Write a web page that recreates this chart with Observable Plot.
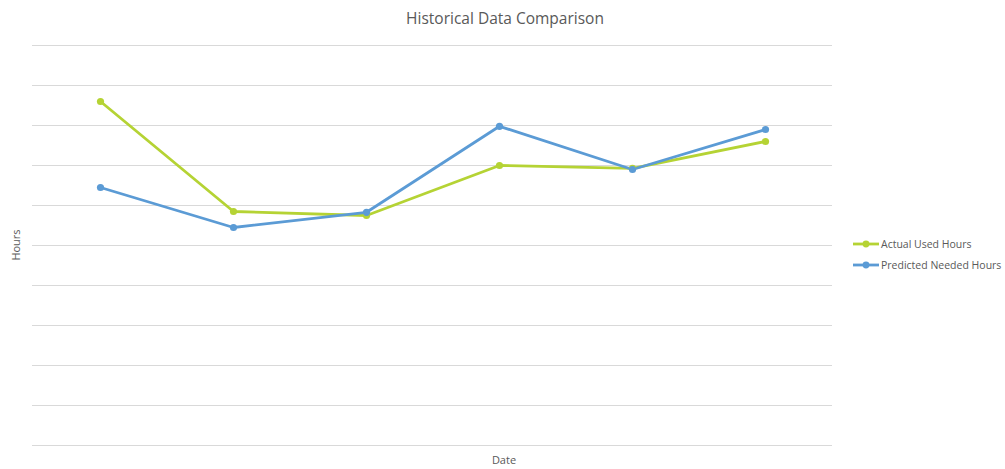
<!DOCTYPE html>
<html>
<head>
<meta charset="utf-8">
<script src="https://cdn.jsdelivr.net/npm/d3@7"></script>
<script src="https://cdn.jsdelivr.net/npm/@observablehq/plot@0.6"></script>
<style>
  html, body { margin: 0; padding: 0; background: #fff; }
  #wrap { position: relative; width: 1005px; height: 469px; font-family: "Open Sans", "DejaVu Sans", sans-serif; color: #595959; }
  #chart { position: absolute; left: 0; top: 0; }
  .title { position: absolute; left: 0; width: 1010px; top: 7px; text-align: center; font-size: 15.5px; color: #595959; }
  .xlab { position: absolute; left: 0; width: 1008px; top: 452px; text-align: center; font-size: 11px; color: #595959; }
  .ylab { position: absolute; left: 15px; top: 245px; font-size: 11px; color: #595959; transform: translate(-50%, -50%) rotate(-90deg); white-space: nowrap; }
  .legend { position: absolute; left: 853px; top: 233px; font-size: 10.5px; color: #595959; }
  .legend .item { display: flex; align-items: center; height: 21.5px; }
  .legend svg { margin-right: 2px; }
</style>
</head>
<body>
<div id="wrap">
  <div id="chart"></div>
  <div class="title" id="title"></div>
  <div class="xlab" id="xlab"></div>
  <div class="ylab" id="ylab"></div>
  <div class="legend" id="legend"></div>
</div>
<script>
const titleText = "Historical Data Comparison";
const xLabel = "Date";
const yLabel = "Hours";
const categories = ["1", "2", "3", "4", "5", "6"];
const seriesNames = ["Actual Used Hours", "Predicted Needed Hours"];
const seriesColors = ["#B5D334", "#5B9BD5"];
const actualUsed = [8.6, 5.85, 5.75, 7.0, 6.93, 7.6];
const predictedNeeded = [6.45, 5.45, 5.83, 7.98, 6.9, 7.9];
const yTicks = [0, 1, 2, 3, 4, 5, 6, 7, 8, 9, 10];

const data = [];
categories.forEach((c, i) => {
  data.push({cat: c, series: seriesNames[0], value: actualUsed[i]});
});
categories.forEach((c, i) => {
  data.push({cat: c, series: seriesNames[1], value: predictedNeeded[i]});
});

const chart = Plot.plot({
  width: 1005,
  height: 469,
  marginLeft: 32,
  marginRight: 173,
  marginTop: 45,
  marginBottom: 24,
  style: {background: "#fff", overflow: "visible"},
  x: {type: "point", domain: categories, padding: 0.5, axis: null},
  y: {domain: [0, 10], axis: null},
  color: {domain: seriesNames, range: seriesColors},
  marks: [
    Plot.ruleY(yTicks, {stroke: "#d9d9d9", strokeWidth: 1}),
    Plot.line(data, {x: "cat", y: "value", z: "series", stroke: "series", strokeWidth: 2.8, strokeLinejoin: "round", strokeLinecap: "round"}),
    Plot.dot(data, {x: "cat", y: "value", fill: "series", r: 3.6, stroke: null})
  ]
});
document.getElementById("chart").appendChild(chart);
document.getElementById("title").textContent = titleText;
document.getElementById("xlab").textContent = xLabel;
document.getElementById("ylab").textContent = yLabel;

const legend = document.getElementById("legend");
seriesNames.forEach((name, i) => {
  const item = document.createElement("div");
  item.className = "item";
  item.innerHTML = `<svg width="26" height="10"><line x1="0" y1="5" x2="26" y2="5" stroke="${seriesColors[i]}" stroke-width="2.8"/><circle cx="13" cy="5" r="3.4" fill="${seriesColors[i]}"/></svg><span></span>`;
  item.querySelector("span").textContent = name;
  legend.appendChild(item);
});
</script>
</body>
</html>
